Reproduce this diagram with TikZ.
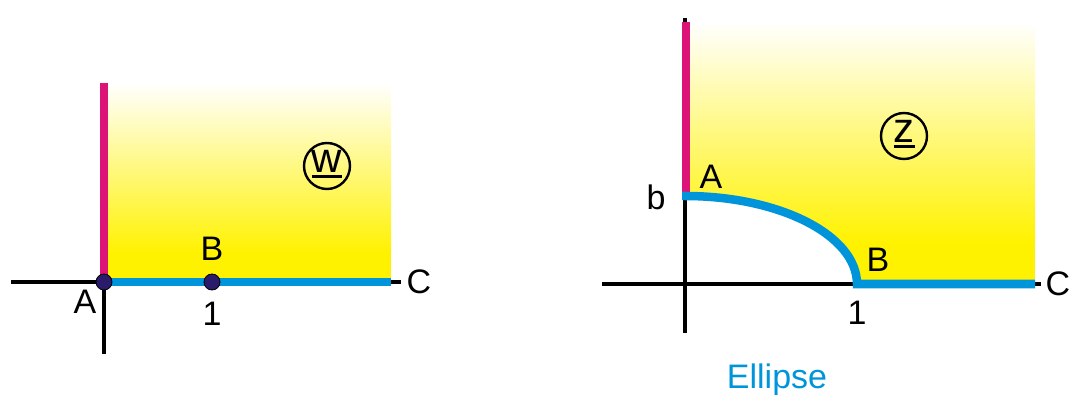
\documentclass[tikz,border=0pt]{standalone}
\usepackage{fontspec}
\setmainfont{Liberation Sans}
\definecolor{mag}{HTML}{DC1478}
\definecolor{cblue}{HTML}{0095DA}
\definecolor{cyel}{HTML}{FFF200}
\definecolor{navy}{HTML}{2B1B6B}
\newcommand\myul[1]{\setbox0\hbox{#1}\rlap{\rule[-5pt]{\wd0}{2.6pt}}\box0}
\begin{document}
\begin{tikzpicture}[x=1pt,y=-1pt,
  axis/.style={line width=3.4pt,black},
  bluel/.style={line width=8.5pt,cblue},
  magl/.style={line width=8pt,mag},
  lbl/.style={inner sep=0pt,font=\fontsize{34}{38}\selectfont},
  circlbl/.style={draw,circle,line width=2.4pt,minimum size=46pt,inner sep=0pt},
  circtxt/.style={inner sep=0pt,font=\fontsize{42}{46}\selectfont},
  dot/.style={circle,fill=navy,draw=black,line width=0.8pt,minimum size=16pt,inner sep=0pt}]
\useasboundingbox (0,0) rectangle (1073,403);
% ---------- left diagram ----------
\shade[top color=white,bottom color=cyel] (104,83) rectangle (391,253);
\fill[cyel] (104,252) rectangle (391,282);
\coordinate (LaxL) at (11,282);
\coordinate (LaxR) at (401,282);
\coordinate (LvB) at (104,354);
\coordinate (LO) at (104,282);
\coordinate (LTop) at (104,83);
\coordinate (LEnd) at (391,282);
\draw[axis] (LaxL) -- (LaxR);
\draw[axis] (LO) -- (LvB);
\draw[magl] (LTop) -- (LO);
\draw[bluel] (LO) -- (LEnd);
\node[dot] (dA) at (104,282) {};
\node[dot] (dB) at (212,282) {};
\node[lbl] (lA) at (85,302) {A};
\node[lbl] (lB) at (212,249) {B};
\node[lbl] (l1) at (212,314) {1};
\node[lbl] (lC) at (419,282) {C};
\node[circlbl] (w) at (327,166) {};
\node[circtxt] (wt) at (327,164) {\myul{w}};
% ---------- right diagram ----------
\shade[top color=white,bottom color=cyel] (685,22) rectangle (1035,243);
\fill[cyel] (685,242) rectangle (1035,284);
\fill[white] (685,284) -- (685,196) arc[start angle=-90,end angle=0,x radius=172,y radius=88] -- cycle;
\coordinate (RaxL) at (602,284);
\coordinate (RaxR) at (1041,284);
\coordinate (RvT) at (685,18);
\coordinate (RvB) at (685,333);
\coordinate (RTop) at (686,22);
\coordinate (RA) at (686,196);
\coordinate (RB) at (857,284);
\coordinate (REnd) at (1035,284);
\draw[axis] (RaxL) -- (RaxR);
\draw[axis] (RvT) -- (RvB);
\draw[magl] (RTop) -- (RA);
\draw[bluel] (682,196) -- (685,196) arc[start angle=-90,end angle=0,x radius=172,y radius=88] -- (REnd);
\node[lbl] (rA) at (711,177) {A};
\node[lbl] (rb) at (656,197) {b};
\node[lbl] (rB) at (878,260) {B};
\node[lbl] (r1) at (857,313) {1};
\node[lbl] (rC) at (1058,284) {C};
\node[circlbl] (z) at (904,136) {};
\node[circtxt] (zt) at (904,134) {\myul{z}};
\node[lbl,text=cblue] (ell) at (777,380) {Ellipse};
\end{tikzpicture}
\end{document}
